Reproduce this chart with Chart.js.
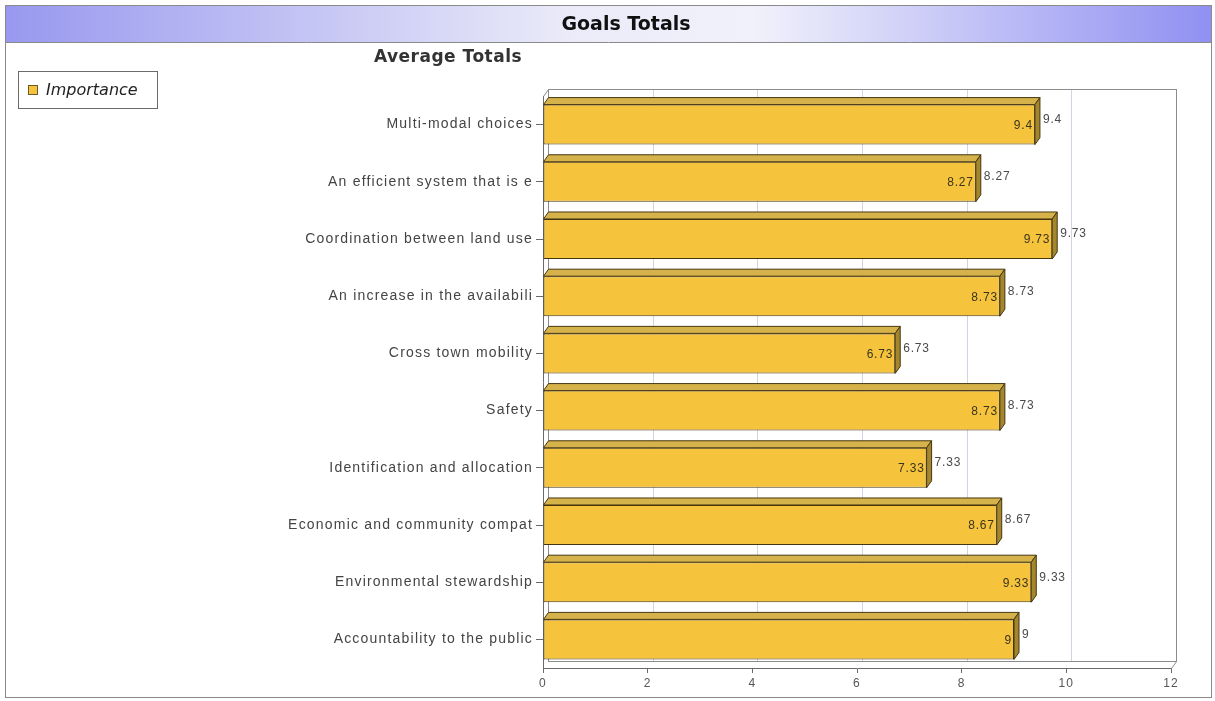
<!DOCTYPE html>
<html>
<head>
<meta charset="utf-8">
<title>Goals Totals</title>
<script src="https://cdn.jsdelivr.net/npm/chart.js@4.4.1/dist/chart.umd.min.js"></script>
<style>
  html, body { margin: 0; padding: 0; background: #fff; }
  canvas { display: block; }
</style>
</head>
<body>
<canvas id="goals" width="1215" height="701"></canvas>
<script>
const goals = [
    "Multi-modal choices",
    "An efficient system that is e",
    "Coordination between land use",
    "An increase in the availabili",
    "Cross town mobility",
    "Safety",
    "Identification and allocation",
    "Economic and community compat",
    "Environmental stewardship",
    "Accountability to the public"
];
const importance = [9.4, 8.27, 9.73, 8.73, 6.73, 8.73, 7.33, 8.67, 9.33, 9];
const xTicks = [0, 2, 4, 6, 8, 10, 12];

// depth of the 3d look (right / up)
const DX = 5;
const DY = 7;

const barFront = '#f6c43c';
const barTop = '#d6b24a';
const barSide = '#a4862c';
const barEdge = '#463610';

// back wall of the plot with its grid lines
const wall = {
    id: 'wall',
    beforeDatasetsDraw(chart) {
        const ctx = chart.ctx;
        const { left, right, top, bottom } = chart.chartArea;
        const xs = chart.scales.x;
        ctx.save();
        ctx.lineWidth = 1;
        ctx.strokeStyle = '#d2d4e2';
        xs.ticks.forEach(t => {
            if (t.value <= xs.min || t.value >= xs.max) return;
            const px = Math.round(xs.getPixelForValue(t.value)) + DX + 0.5;
            ctx.beginPath();
            ctx.moveTo(px, top - DY);
            ctx.lineTo(px, bottom - DY);
            ctx.stroke();
        });
        ctx.strokeStyle = '#8c8c8c';
        ctx.strokeRect(left + DX + 0.5, top - DY + 0.5, right - left, bottom - top);
        ctx.beginPath();
        ctx.moveTo(left + 0.5, top + 0.5);
        ctx.lineTo(left + DX + 0.5, top - DY + 0.5);
        ctx.moveTo(right + 0.5, bottom + 0.5);
        ctx.lineTo(right + DX + 0.5, bottom - DY + 0.5);
        ctx.stroke();
        ctx.restore();
    }
};

// top and side faces of every bar, then the two value labels
const depth = {
    id: 'depth',
    afterDatasetsDraw(chart) {
        const ctx = chart.ctx;
        const meta = chart.getDatasetMeta(0);
        const values = chart.data.datasets[0].data;
        ctx.save();
        ctx.lineWidth = 1;
        ctx.strokeStyle = barEdge;
        meta.data.forEach((bar, i) => {
            const { x, y, base, height } = bar.getProps(['x', 'y', 'base', 'height'], true);
            const t = y - height / 2;
            const b = y + height / 2;

            ctx.beginPath();
            ctx.moveTo(base, t);
            ctx.lineTo(base + DX, t - DY);
            ctx.lineTo(x + DX, t - DY);
            ctx.lineTo(x, t);
            ctx.closePath();
            ctx.fillStyle = barTop;
            ctx.fill();
            ctx.stroke();

            ctx.beginPath();
            ctx.moveTo(x, t);
            ctx.lineTo(x + DX, t - DY);
            ctx.lineTo(x + DX, b - DY);
            ctx.lineTo(x, b);
            ctx.closePath();
            ctx.fillStyle = barSide;
            ctx.fill();
            ctx.stroke();

            const label = String(values[i]);
            ctx.letterSpacing = '0.8px';
            ctx.font = '12px "Liberation Sans", Arial, sans-serif';
            ctx.textBaseline = 'middle';
            ctx.fillStyle = '#3a3320';
            ctx.textAlign = 'right';
            ctx.fillText(label, x - 2, y + 1);
            ctx.fillStyle = '#4a4a4a';
            ctx.textAlign = 'left';
            ctx.fillText(label, x + DX + 3, y - 5);
        });
        ctx.restore();
    }
};

// the axis text is a bit spaced out
const spacing = {
    id: 'spacing',
    beforeDraw(chart) {
        chart.ctx.letterSpacing = '1.2px';
    }
};

// header band, titles, legend and outer frame
const frame = {
    id: 'frame',
    afterDraw(chart) {
        const ctx = chart.ctx;
        const W = chart.width;
        const H = chart.height;
        ctx.save();
        ctx.letterSpacing = '0px';

        const g = ctx.createLinearGradient(5, 0, W - 3, 0);
        g.addColorStop(0, '#9898ef');
        g.addColorStop(0.47, '#ebebf9');
        g.addColorStop(0.62, '#f1f1fb');
        g.addColorStop(1, '#9090f2');
        ctx.fillStyle = g;
        ctx.fillRect(5, 5, W - 8, 37);
        ctx.strokeStyle = '#8a8a8a';
        ctx.lineWidth = 1;
        ctx.beginPath();
        ctx.moveTo(5, 42.5);
        ctx.lineTo(W - 3, 42.5);
        ctx.stroke();

        ctx.fillStyle = '#111';
        ctx.textAlign = 'center';
        ctx.textBaseline = 'middle';
        ctx.font = 'bold 19px "DejaVu Sans", sans-serif';
        ctx.fillText('Goals Totals', 626, 25);

        ctx.fillStyle = '#333';
        ctx.letterSpacing = '0.5px';
        ctx.font = 'bold 17px "DejaVu Sans", sans-serif';
        ctx.fillText('Average Totals', 448, 58);
        ctx.letterSpacing = '0px';

        // legend
        ctx.strokeStyle = '#6a6a6a';
        ctx.strokeRect(18.5, 71.5, 139, 37);
        ctx.fillStyle = barFront;
        ctx.fillRect(28, 85, 10, 10);
        ctx.strokeStyle = '#6b5a2a';
        ctx.strokeRect(28.5, 85.5, 9, 9);
        ctx.fillStyle = '#222';
        ctx.textAlign = 'left';
        ctx.font = 'italic 16px "DejaVu Sans", sans-serif';
        ctx.fillText(chart.data.datasets[0].label, 46, 91);

        // outer frame
        ctx.strokeStyle = '#8a8a8a';
        ctx.strokeRect(5.5, 5.5, W - 9, H - 9);
        ctx.restore();
    }
};

new Chart(document.getElementById('goals'), {
    type: 'bar',
    data: {
        labels: goals,
        datasets: [{
            label: 'Importance',
            data: importance,
            backgroundColor: barFront,
            borderColor: barEdge,
            borderWidth: 1,
            borderSkipped: false,
            barPercentage: 0.7,
            categoryPercentage: 1
        }]
    },
    options: {
        indexAxis: 'y',
        responsive: false,
        animation: false,
        layout: {
            padding: { top: 96, right: 44, bottom: 0, left: 0 }
        },
        plugins: {
            legend: { display: false },
            title: { display: false },
            tooltip: { enabled: false }
        },
        scales: {
            x: {
                min: 0,
                max: 12,
                afterBuildTicks: axis => {
                    axis.ticks = xTicks.map(v => ({ value: v }));
                },
                afterFit: axis => { axis.height = 33; },
                grid: {
                    drawOnChartArea: false,
                    drawTicks: true,
                    tickLength: 5,
                    color: '#6a6a6a'
                },
                border: { display: true, color: '#6a6a6a' },
                ticks: {
                    padding: 3,
                    color: '#555',
                    font: { family: '"Liberation Sans", Arial, sans-serif', size: 12 }
                }
            },
            y: {
                afterFit: axis => { axis.width = 543; },
                grid: {
                    offset: false,
                    drawOnChartArea: false,
                    drawTicks: true,
                    tickLength: 7,
                    color: '#6a6a6a'
                },
                border: { display: true, color: '#6a6a6a' },
                ticks: {
                    padding: 3,
                    color: '#444',
                    font: { family: '"Liberation Sans", Arial, sans-serif', size: 14 }
                }
            }
        }
    },
    plugins: [spacing, wall, depth, frame]
});
</script>
</body>
</html>
